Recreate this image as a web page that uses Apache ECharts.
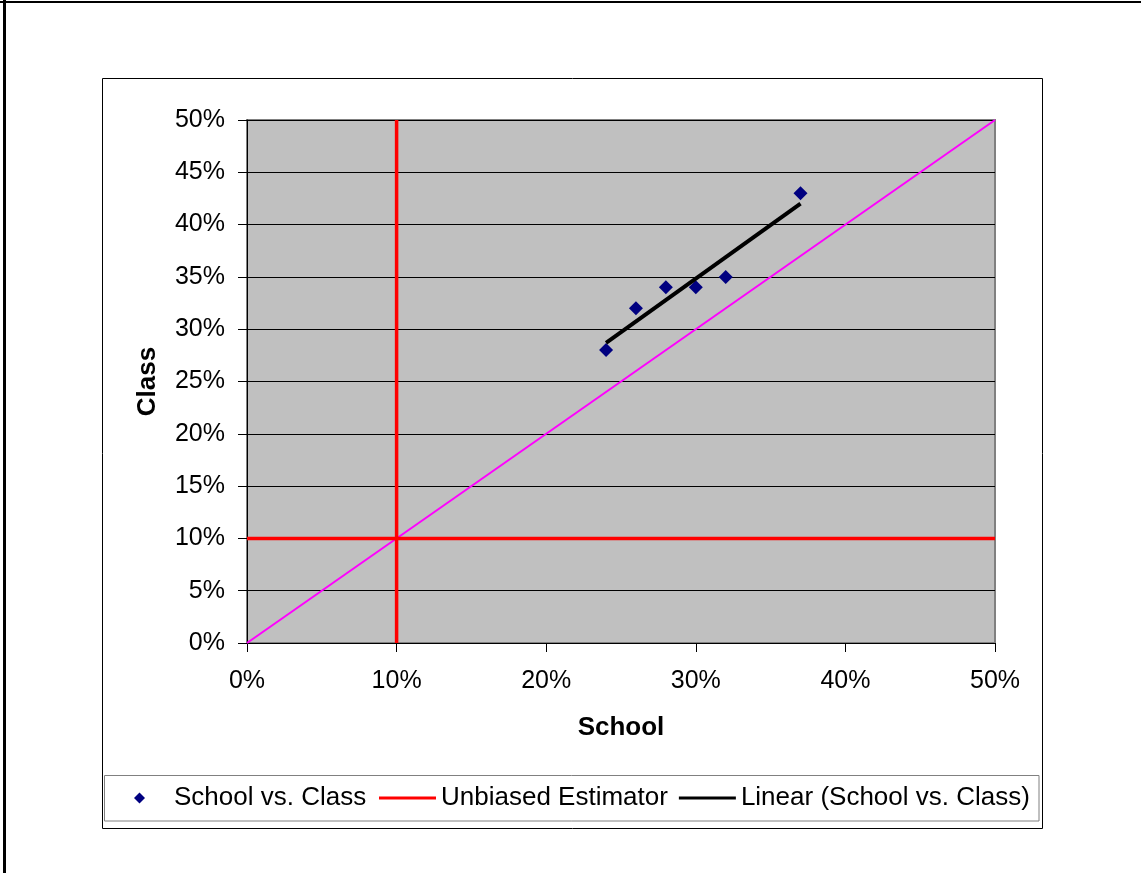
<!DOCTYPE html>
<html>
<head>
<meta charset="utf-8">
<script src="https://cdn.jsdelivr.net/npm/echarts@6/dist/echarts.min.js"></script>
<style>
html,body{margin:0;padding:0;background:#fff;}
#chart{width:1141px;height:873px;}
</style>
</head>
<body>
<div id="chart"></div>
<script>
// Data (percent units)
const schoolValues = [24, 26, 28, 30, 32, 37];
const classValues  = [28, 32, 34, 34, 35, 43];
// Linear trend line endpoints (as drawn in the reference)
const trendSchool = [24, 37];
const trendClass  = [28.7, 42.0];
// Unbiased estimator reference level and the identity diagonal
const unbiasedLevel = 10;
const diagonalEnds = [0, 50];
// Axis ticks
const xTicks = [0, 10, 20, 30, 40, 50];
const yTicks = [0, 5, 10, 15, 20, 25, 30, 35, 40, 45, 50];

const FONT = '"Liberation Sans", Arial, sans-serif';

const scatterData = schoolValues.map((x, i) => [x, classValues[i]]);
const trendData = trendSchool.map((x, i) => [x, trendClass[i]]);
const diagData = diagonalEnds.map(v => [v, v]);
const vertData = [[unbiasedLevel, yTicks[0]], [unbiasedLevel, yTicks[yTicks.length - 1]]];
const horzData = [[xTicks[0], unbiasedLevel], [xTicks[xTicks.length - 1], unbiasedLevel]];

const chart = echarts.init(document.getElementById('chart'), null, {renderer: 'canvas'});
chart.setOption({
  animation: false,
  backgroundColor: '#ffffff',
  textStyle: {fontFamily: FONT},
  graphic: [
    {type: 'line', shape: {x1: 0, y1: 2, x2: 1141, y2: 2}, style: {stroke: '#000', lineWidth: 2}},
    {type: 'line', shape: {x1: 4.5, y1: 0, x2: 4.5, y2: 873}, style: {stroke: '#000', lineWidth: 3}},
    {type: 'rect', shape: {x: 102.5, y: 78.5, width: 940, height: 750}, style: {stroke: '#000', lineWidth: 1, fill: null}},
    {type: 'rect', shape: {x: 104.5, y: 775.5, width: 934.5, height: 45.5}, style: {stroke: '#808080', lineWidth: 1, fill: null}}
  ],
  grid: {
    left: 247, top: 120, width: 748, height: 523,
    show: true, backgroundColor: '#C0C0C0', borderColor: '#808080', borderWidth: 2
  },
  xAxis: {
    type: 'value',
    min: xTicks[0], max: xTicks[xTicks.length - 1], interval: xTicks[1] - xTicks[0],
    name: 'School', nameLocation: 'middle', nameGap: 72,
    nameTextStyle: {fontFamily: FONT, fontSize: 26, fontWeight: 'bold', color: '#000'},
    axisLine: {show: true, lineStyle: {color: '#000', width: 1}},
    axisTick: {show: true, inside: false, length: 9, lineStyle: {color: '#000'}},
    axisLabel: {formatter: v => v + '%', fontFamily: FONT, fontSize: 25, color: '#000', margin: 26},
    splitLine: {show: false}
  },
  yAxis: {
    type: 'value',
    min: yTicks[0], max: yTicks[yTicks.length - 1], interval: yTicks[1] - yTicks[0],
    name: 'Class', nameLocation: 'middle', nameGap: 86,
    nameTextStyle: {fontFamily: FONT, fontSize: 26, fontWeight: 'bold', color: '#000'},
    axisLine: {show: true, lineStyle: {color: '#000', width: 1}},
    axisTick: {show: true, inside: false, length: 9, lineStyle: {color: '#000'}},
    axisLabel: {formatter: v => v + '%', fontFamily: FONT, fontSize: 25, color: '#000', margin: 22},
    splitLine: {show: true, lineStyle: {color: '#000', width: 1}}
  },
  legend: [
    {
      data: [{name: 'School vs. Class', icon: 'diamond'}],
      left: 134, top: 785, padding: 0,
      itemWidth: 11, itemHeight: 11,
      textStyle: {fontFamily: FONT, fontSize: 26, color: '#000', padding: [0, 0, 0, 24]}
    },
    {
      data: [
        {name: 'Unbiased Estimator', icon: 'rect'},
        {name: 'Linear (School vs. Class)', icon: 'rect'}
      ],
      left: 379, top: 785, padding: 0, itemGap: 11,
      itemWidth: 57, itemHeight: 3,
      textStyle: {fontFamily: FONT, fontSize: 26, color: '#000'}
    }
  ],
  series: [
    {
      name: 'Diagonal', type: 'line', data: diagData, symbol: 'none',
      lineStyle: {color: '#FF00FF', width: 2}, itemStyle: {color: '#FF00FF'}, silent: true
    },
    {
      name: 'Unbiased Estimator', type: 'line', data: vertData, symbol: 'none',
      lineStyle: {color: '#FF0000', width: 3.5}, itemStyle: {color: '#FF0000'}, silent: true
    },
    {
      name: 'Unbiased Estimator', type: 'line', data: horzData, symbol: 'none',
      lineStyle: {color: '#FF0000', width: 3.5}, itemStyle: {color: '#FF0000'}, silent: true
    },
    {
      name: 'Linear (School vs. Class)', type: 'line', data: trendData, symbol: 'none',
      lineStyle: {color: '#000000', width: 4}, itemStyle: {color: '#000000'}, silent: true
    },
    {
      name: 'School vs. Class', type: 'scatter', data: scatterData,
      symbol: 'diamond', symbolSize: 14,
      itemStyle: {color: '#000080', opacity: 1}
    }
  ]
});
</script>
</body>
</html>
